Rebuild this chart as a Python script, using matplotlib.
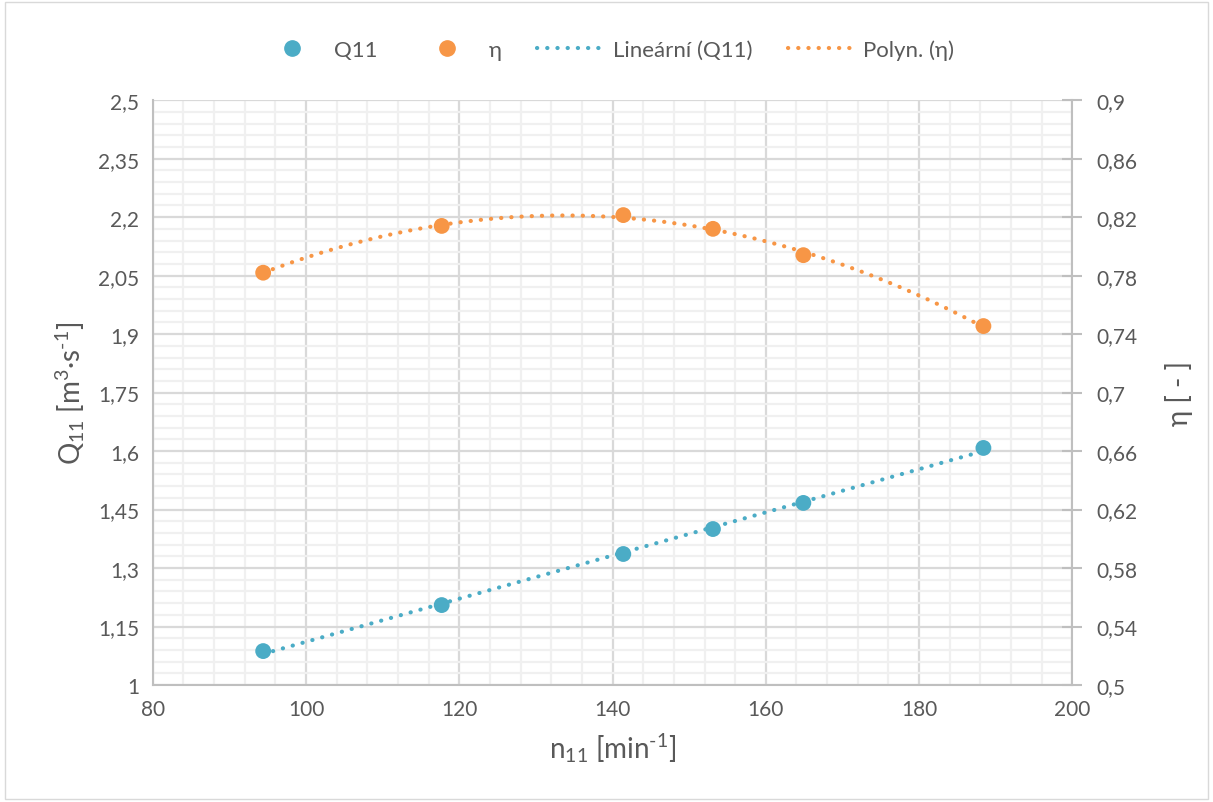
import numpy as np
import matplotlib.pyplot as plt
from matplotlib.ticker import FuncFormatter
from matplotlib.lines import Line2D
from matplotlib.patches import Rectangle

plt.rcParams['font.family'] = ['Lato', 'DejaVu Sans']
plt.rcParams['mathtext.fontset'] = 'custom'
plt.rcParams['mathtext.rm'] = 'Lato'
plt.rcParams['mathtext.it'] = 'Lato'

# data
n11 = [94.4, 117.7, 141.4, 153.1, 164.9, 188.4]
q11 = [1.087, 1.205, 1.336, 1.400, 1.467, 1.608]
eta = [0.782, 0.814, 0.8214, 0.812, 0.794, 0.7455]

blue = "#4BACC6"
orange = "#F79646"
grey_txt = "#595959"


def comma(v, pos):
    s = "{:.2f}".format(v).rstrip("0").rstrip(".")
    return s.replace(".", ",")


fig = plt.figure(figsize=(12.13, 8.03), dpi=100)
fig.patches.append(Rectangle((0.004, 0.004), 0.992, 0.992, transform=fig.transFigure,
                             fill=False, edgecolor="#D9D9D9", lw=1))
ax = fig.add_axes([0.126, 0.1457, 0.758, 0.7283])
ax2 = ax.twinx()

# trendlines
xs = np.linspace(min(n11), max(n11), 200)
lin = np.polyfit(n11, q11, 1)
pol = np.polyfit(n11, eta, 2)
dots = (0, (0.05, 2.4))
ax.plot(xs, np.polyval(lin, xs), color=blue, lw=3, ls=dots, dash_capstyle="round", zorder=3)
ax2.plot(xs, np.polyval(pol, xs), color=orange, lw=3, ls=dots, dash_capstyle="round", zorder=3)

ax.scatter(n11, q11, s=130, color=blue, zorder=4, edgecolors="none")
ax2.scatter(n11, eta, s=130, color=orange, zorder=4, edgecolors="none")

ax.set_xlim(80, 200)
ax.set_ylim(1, 2.5)
ax2.set_ylim(0.5, 0.9)

ax.set_xticks(np.linspace(80, 200, 7))
ax.set_xticks(np.linspace(80, 200, 31), minor=True)
ax.set_yticks(np.linspace(1, 2.5, 11))
ax.set_yticks(np.linspace(1, 2.5, 51), minor=True)
ax2.set_yticks(np.linspace(0.5, 0.9, 11))
ax.yaxis.set_major_formatter(FuncFormatter(comma))
ax2.yaxis.set_major_formatter(FuncFormatter(comma))

ax.grid(which="major", color="#D9D9D9", lw=1.6)
ax.grid(which="minor", color="#F0F0F0", lw=1.6)
ax.set_axisbelow(True)

for a in (ax, ax2):
    for sp in a.spines.values():
        sp.set_visible(False)
ax.spines["left"].set_visible(True)
ax.spines["bottom"].set_visible(True)
ax2.spines["right"].set_visible(True)
for sp in (ax.spines["left"], ax.spines["bottom"], ax2.spines["right"]):
    sp.set_color("#BFBFBF")
    sp.set_linewidth(1.5)

ax.tick_params(axis="both", which="both", length=0, labelsize=15, labelcolor=grey_txt, pad=10)
ax2.tick_params(axis="y", which="major", length=14, width=1.5, color="#BFBFBF",
                direction="inout", labelsize=15, labelcolor=grey_txt, pad=10)
ax2.tick_params(axis="y", which="minor", length=0)

ax.set_xlabel(r"n$_{11}$ [min$^{\text{-1}}$]", fontsize=20, color=grey_txt, labelpad=8)
ax.set_ylabel(r"Q$_{11}$ [m$^{3}$·s$^{\text{-1}}$]", fontsize=20, color=grey_txt, labelpad=8)
ax2.set_ylabel("η [ - ]", fontsize=20, color=grey_txt, labelpad=20)

handles = [
    Line2D([], [], ls="none", marker="o", ms=11, color=blue),
    Line2D([], [], ls="none", marker="o", ms=11, color=orange),
    Line2D([], [], color=blue, lw=3, ls=dots, dash_capstyle="round"),
    Line2D([], [], color=orange, lw=3, ls=dots, dash_capstyle="round"),
]
labels = ["Q11", "η", "Lineární (Q11)", "Polyn. (η)"]
fig.legend(handles, labels, loc="center", bbox_to_anchor=(0.5, 0.937), ncol=4,
           frameon=False, fontsize=16, labelcolor=grey_txt, handlelength=3.0,
           columnspacing=1.6, handletextpad=0.4)

fig.savefig("out.png", dpi=100)
